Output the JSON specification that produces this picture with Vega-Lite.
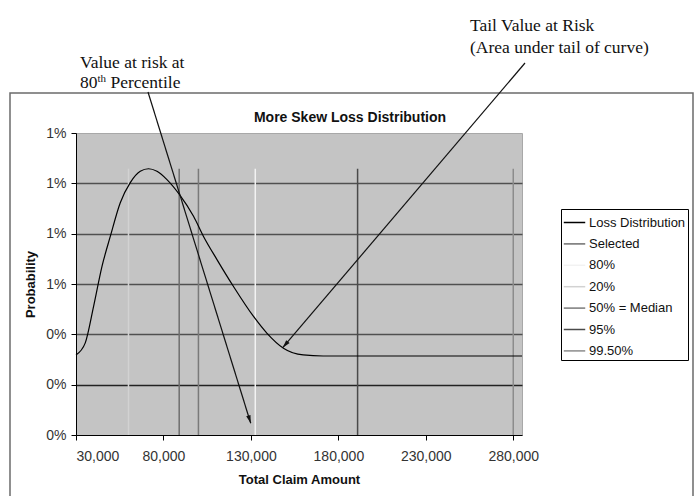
{
  "$schema": "https://vega.github.io/schema/vega-lite/v6.json",
  "width": 446,
  "height": 302,
  "autosize": {"type": "none"},
  "padding": {"left": 76, "top": 133, "right": 176, "bottom": 61},
  "background": "white",
  "config": {
    "view": {"fill": "#c4c4c4", "stroke": "#a8a8a8"},
    "font": "Liberation Sans",
    "axis": {
      "labelFont": "Liberation Sans",
      "labelFontSize": 14,
      "labelColor": "#333333",
      "titleFont": "Liberation Sans",
      "titleFontSize": 13,
      "titleFontWeight": "bold",
      "titleColor": "#111111",
      "domainColor": "#000000",
      "tickColor": "#000000",
      "tickSize": 5
    },
    "legend": {
      "orient": "none",
      "legendX": 485,
      "legendY": 76,
      "symbolType": "stroke",
      "symbolSize": 460,
      "symbolStrokeWidth": 1.5,
      "labelFont": "Liberation Sans",
      "labelFontSize": 13,
      "labelColor": "#111111",
      "labelLimit": 200,
      "labelOffset": 3,
      "strokeColor": "#000000",
      "fillColor": "#ffffff",
      "padding": 2,
      "rowPadding": 2.4
    }
  },
  "datasets": {
    "curve": [
      {"series": "Loss Distribution", "amount": 30000, "prob": 0.00318},
      {"series": "Loss Distribution", "amount": 35300, "prob": 0.00366},
      {"series": "Loss Distribution", "amount": 40060, "prob": 0.00511},
      {"series": "Loss Distribution", "amount": 44860, "prob": 0.0067},
      {"series": "Loss Distribution", "amount": 49600, "prob": 0.00789},
      {"series": "Loss Distribution", "amount": 55310, "prob": 0.00923},
      {"series": "Loss Distribution", "amount": 61030, "prob": 0.01003},
      {"series": "Loss Distribution", "amount": 66740, "prob": 0.01048},
      {"series": "Loss Distribution", "amount": 71480, "prob": 0.01058},
      {"series": "Loss Distribution", "amount": 76280, "prob": 0.01048},
      {"series": "Loss Distribution", "amount": 82000, "prob": 0.01015},
      {"series": "Loss Distribution", "amount": 89200, "prob": 0.00955},
      {"series": "Loss Distribution", "amount": 97200, "prob": 0.00869},
      {"series": "Loss Distribution", "amount": 102900, "prob": 0.00789},
      {"series": "Loss Distribution", "amount": 110600, "prob": 0.00697},
      {"series": "Loss Distribution", "amount": 120050, "prob": 0.0059},
      {"series": "Loss Distribution", "amount": 131500, "prob": 0.00471},
      {"series": "Loss Distribution", "amount": 139100, "prob": 0.00405},
      {"series": "Loss Distribution", "amount": 148600, "prob": 0.00345},
      {"series": "Loss Distribution", "amount": 159900, "prob": 0.00318},
      {"series": "Loss Distribution", "amount": 171300, "prob": 0.00314},
      {"series": "Loss Distribution", "amount": 285000, "prob": 0.00314}
    ],
    "markers": [
      {"series": "Selected", "amount": 89000, "prob": 0.01058},
      {"series": "80%", "amount": 132500, "prob": 0.01058},
      {"series": "20%", "amount": 60000, "prob": 0.01058},
      {"series": "50% = Median", "amount": 100000, "prob": 0.01058},
      {"series": "95%", "amount": 191000, "prob": 0.01058},
      {"series": "99.50%", "amount": 280000, "prob": 0.01058}
    ]
  },
  "layer": [
    {
      "data": {"values": [{}]},
      "mark": {"type": "rect", "filled": false, "color": "#6b6b6b", "strokeWidth": 1.5, "clip": false},
      "encoding": {
        "x": {"datum": -7736, "type": "quantitative", "scale": {"domain": [30000, 285000], "nice": false, "zero": false}},
        "x2": {"datum": 382770},
        "y": {"datum": 0.013589, "type": "quantitative", "scale": {"domain": [0, 0.012], "nice": false, "zero": false}},
        "y2": {"datum": -0.0026}
      }
    },
    {
      "data": {"name": "markers"},
      "mark": {"type": "rule", "strokeWidth": 1.5},
      "encoding": {
        "x": {"field": "amount", "type": "quantitative", "scale": {"domain": [30000, 285000], "nice": false, "zero": false}},
        "y": {"field": "prob", "type": "quantitative", "scale": {"domain": [0, 0.012], "nice": false, "zero": false}},
        "y2": {"datum": 0},
        "color": {
          "field": "series",
          "type": "nominal",
          "scale": {
            "domain": ["Loss Distribution", "Selected", "80%", "20%", "50% = Median", "95%", "99.50%"],
            "range": ["#000000", "#6e6e6e", "#f2f2f2", "#d2d2d2", "#7a7a7a", "#4a4a4a", "#8c8c8c"]
          },
          "legend": {"title": null}
        }
      }
    },
    {
      "data": {"name": "curve"},
      "mark": {"type": "line", "interpolate": "monotone", "strokeWidth": 1.2},
      "encoding": {
        "x": {
          "field": "amount",
          "type": "quantitative",
          "scale": {"domain": [30000, 285000], "nice": false, "zero": false},
          "axis": {
            "title": "Total Claim Amount",
            "values": [30000, 80000, 130000, 180000, 230000, 280000],
            "format": ",d",
            "grid": false,
            "labelPadding": 9,
            "titlePadding": 10
          }
        },
        "y": {
          "field": "prob",
          "type": "quantitative",
          "scale": {"domain": [0, 0.012], "nice": false, "zero": false},
          "axis": {
            "title": "Probability",
            "values": [0, 0.002, 0.004, 0.006, 0.008, 0.01, 0.012],
            "format": ".0%",
            "grid": true,
            "gridColor": {"condition": {"test": "datum.value < 0.003", "value": "#222222"}, "value": "#505050"},
            "gridWidth": 1.5,
            "gridOpacity": {"condition": {"test": "datum.value > 0.0119 || datum.value < 0.0001", "value": 0}, "value": 1},
            "labelPadding": 5,
            "titlePadding": 8
          }
        },
        "color": {
          "field": "series",
          "type": "nominal",
          "scale": {
            "domain": ["Loss Distribution", "Selected", "80%", "20%", "50% = Median", "95%", "99.50%"],
            "range": ["#000000", "#6e6e6e", "#f2f2f2", "#d2d2d2", "#7a7a7a", "#4a4a4a", "#8c8c8c"]
          },
          "legend": {"title": null}
        }
      }
    },
    {
      "data": {"values": [{}]},
      "mark": {"type": "text", "text": "More Skew Loss Distribution", "font": "Liberation Sans", "fontSize": 14, "fontWeight": "bold", "align": "center", "baseline": "alphabetic", "color": "#111111", "clip": false},
      "encoding": {
        "x": {"datum": 186660, "type": "quantitative"},
        "y": {"datum": 0.012456, "type": "quantitative"}
      }
    },
    {
      "data": {"values": [{}]},
      "mark": {"type": "rule", "color": "#111111", "strokeWidth": 1.2, "clip": false},
      "encoding": {
        "x": {"datum": 71166, "type": "quantitative"},
        "y": {"datum": 0.013629, "type": "quantitative"},
        "x2": {"datum": 129900},
        "y2": {"datum": 0.000465}
      }
    },
    {
      "data": {"values": [{}]},
      "mark": {"type": "point", "shape": "M0,0L-0.45,-1.6L0.45,-1.6Z", "filled": true, "color": "#111111", "opacity": 1, "size": 100, "angle": 342.7, "clip": false},
      "encoding": {
        "x": {"datum": 129900, "type": "quantitative"},
        "y": {"datum": 0.000465, "type": "quantitative"}
      }
    },
    {
      "data": {"values": [{}]},
      "mark": {"type": "rule", "color": "#111111", "strokeWidth": 1.2, "clip": false},
      "encoding": {
        "x": {"datum": 286716, "type": "quantitative"},
        "y": {"datum": 0.014781, "type": "quantitative"},
        "x2": {"datum": 148180},
        "y2": {"datum": 0.003469}
      }
    },
    {
      "data": {"values": [{}]},
      "mark": {"type": "point", "shape": "M0,0L-0.45,-1.6L0.45,-1.6Z", "filled": true, "color": "#111111", "opacity": 1, "size": 100, "angle": 40.4, "clip": false},
      "encoding": {
        "x": {"datum": 148180, "type": "quantitative"},
        "y": {"datum": 0.003469, "type": "quantitative"}
      }
    },
    {
      "data": {"values": [{}]},
      "mark": {"type": "text", "text": "Value at risk at", "font": "Liberation Serif", "fontSize": 17.5, "align": "left", "baseline": "alphabetic", "color": "#111111", "clip": false},
      "encoding": {
        "x": {"datum": 32287, "type": "quantitative"},
        "y": {"datum": 0.014583, "type": "quantitative"}
      }
    },
    {
      "data": {"values": [{}]},
      "mark": {"type": "text", "text": "80", "font": "Liberation Serif", "fontSize": 17.5, "align": "left", "baseline": "alphabetic", "color": "#111111", "clip": false},
      "encoding": {
        "x": {"datum": 32287, "type": "quantitative"},
        "y": {"datum": 0.013788, "type": "quantitative"}
      }
    },
    {
      "data": {"values": [{}]},
      "mark": {"type": "text", "text": "th", "font": "Liberation Serif", "fontSize": 11, "align": "left", "baseline": "alphabetic", "dx": 17.5, "dy": -6, "color": "#111111", "clip": false},
      "encoding": {
        "x": {"datum": 32287, "type": "quantitative"},
        "y": {"datum": 0.013788, "type": "quantitative"}
      }
    },
    {
      "data": {"values": [{}]},
      "mark": {"type": "text", "text": "Percentile", "font": "Liberation Serif", "fontSize": 17.5, "align": "left", "baseline": "alphabetic", "dx": 30.5, "color": "#111111", "clip": false},
      "encoding": {
        "x": {"datum": 32287, "type": "quantitative"},
        "y": {"datum": 0.013788, "type": "quantitative"}
      }
    },
    {
      "data": {"values": [{}]},
      "mark": {"type": "text", "text": ["Tail Value at Risk", "(Area under tail of curve)"], "lineHeight": 22, "font": "Liberation Serif", "fontSize": 17.5, "align": "left", "baseline": "alphabetic", "color": "#111111", "clip": false},
      "encoding": {
        "x": {"datum": 255270, "type": "quantitative"},
        "y": {"datum": 0.016053, "type": "quantitative"}
      }
    }
  ]
}
